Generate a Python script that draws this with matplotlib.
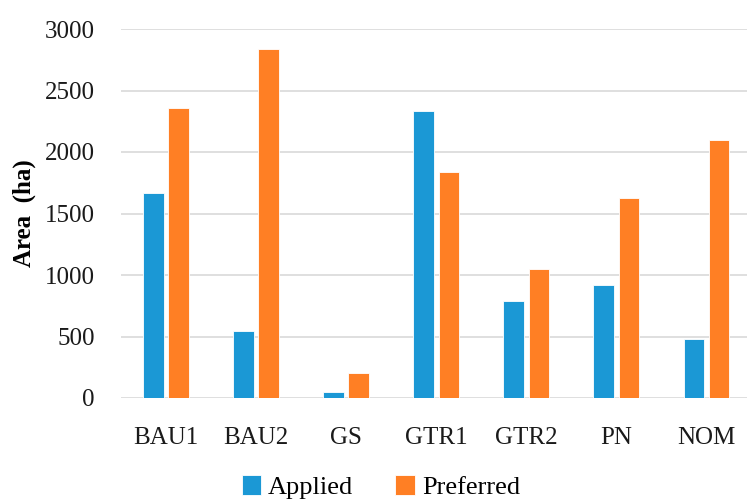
import numpy as np
import matplotlib.pyplot as plt

categories = ["BAU1", "BAU2", "GS", "GTR1", "GTR2", "PN", "NOM"]
applied = [1665, 545, 50, 2330, 785, 920, 480]
preferred = [2360, 2835, 205, 1840, 1050, 1630, 2100]

plt.rcParams['font.family'] = ['Liberation Serif', 'DejaVu Serif']

fig = plt.figure(figsize=(7.47, 5), dpi=100)
ax = fig.add_axes([0.162, 0.204, 0.838, 0.738])

x = np.arange(len(categories))
w = 0.23
ax.bar(x - 0.14, applied, w, color='#1B98D5', edgecolor='white', linewidth=0.6, label='Applied', zorder=3)
ax.bar(x + 0.14, preferred, w, color='#FF7F24', edgecolor='white', linewidth=0.6, label='Preferred', zorder=3)

ax.set_ylim(0, 3000)
ax.set_xlim(-0.5, 6.45)
ax.set_yticks(np.arange(0, 3001, 500))
ax.set_xticks(x)
ax.set_xticklabels(categories)
ax.tick_params(axis='both', length=0, labelsize=18, colors='#1a1a1a')
ax.tick_params(axis='y', pad=19)
ax.tick_params(axis='x', pad=21)
ax.grid(axis='y', color='#D9D9D9', linewidth=1.2, zorder=0)
for s in ax.spines.values():
    s.set_visible(False)

ax.set_ylabel("Area  (ha)", fontsize=18, fontweight='bold', labelpad=6)

ax.legend(loc='upper center', bbox_to_anchor=(0.415, -0.21), ncol=2, frameon=False,
          fontsize=19, handlelength=0.75, handleheight=0.75, handletextpad=0.25,
          columnspacing=1.6, borderaxespad=0, borderpad=0)

fig.savefig("out.png", dpi=100)
